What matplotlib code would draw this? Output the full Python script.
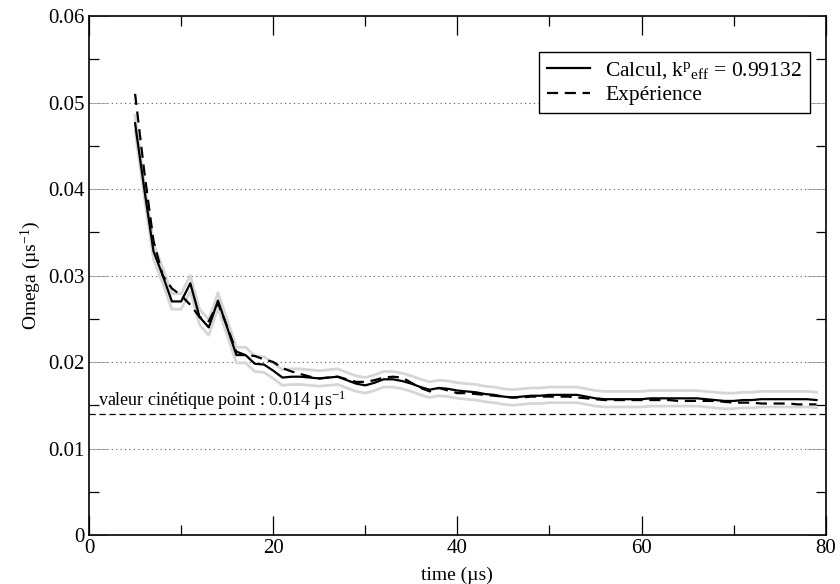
import matplotlib
matplotlib.use("Agg")
import matplotlib.pyplot as plt
import numpy as np

plt.rcParams['font.family'] = ['Liberation Serif', 'DejaVu Serif']
plt.rcParams['mathtext.fontset'] = 'custom'
plt.rcParams['mathtext.rm'] = 'Liberation Serif'
plt.rcParams['mathtext.it'] = 'Liberation Serif:italic'

# time (µs)
time = list(range(5, 80))

calcul = [0.0476, 0.0400, 0.0328, 0.0300, 0.0270, 0.0270, 0.0291, 0.0252, 0.0240, 0.0271,
          0.0240, 0.0208, 0.0208, 0.0198, 0.0197, 0.0190, 0.0182, 0.0183, 0.0183, 0.0182,
          0.0181, 0.0182, 0.0183, 0.0179, 0.0175, 0.0173, 0.0176, 0.0180, 0.0180, 0.0178,
          0.0175, 0.0171, 0.0168, 0.0170, 0.0169, 0.0167, 0.0166, 0.0165, 0.0163, 0.0162,
          0.0160, 0.0159, 0.0160, 0.0161, 0.0161, 0.0162, 0.0162, 0.0162, 0.0162, 0.0160,
          0.0158, 0.0157, 0.0157, 0.0157, 0.0157, 0.0157, 0.0158, 0.0158, 0.0158, 0.0158,
          0.0158, 0.0158, 0.0157, 0.0156, 0.0155, 0.0155, 0.0156, 0.0156, 0.0157, 0.0157,
          0.0157, 0.0157, 0.0157, 0.0157, 0.0156]

experience = [0.0510, 0.0420, 0.0340, 0.0300, 0.0285, 0.0277, 0.0266, 0.0252, 0.0247, 0.0268,
              0.0241, 0.0212, 0.0208, 0.0207, 0.0203, 0.0200, 0.0193, 0.0189, 0.0186, 0.0183,
              0.0181, 0.0182, 0.0183, 0.0180, 0.0177, 0.0177, 0.0179, 0.0182, 0.0183, 0.0182,
              0.0176, 0.0170, 0.0166, 0.0170, 0.0167, 0.0164, 0.0164, 0.0163, 0.0162, 0.0161,
              0.0160, 0.0159, 0.0159, 0.0160, 0.0160, 0.0160, 0.0160, 0.0160, 0.0159, 0.0158,
              0.0157, 0.0156, 0.0156, 0.0156, 0.0156, 0.0156, 0.0156, 0.0156, 0.0156, 0.0155,
              0.0155, 0.0155, 0.0155, 0.0155, 0.0154, 0.0153, 0.0153, 0.0153, 0.0152, 0.0152,
              0.0152, 0.0152, 0.0151, 0.0151, 0.0151]

calc_err = 0.0009          # half-width of the grey band around the calculation
point_kinetic = 0.014      # point-kinetics reference value

x_ticks = [0, 20, 40, 60, 80]
y_ticks = [0, 0.01, 0.02, 0.03, 0.04, 0.05, 0.06]
y_tick_labels = ["0", "0.01", "0.02", "0.03", "0.04", "0.05", "0.06"]

fig = plt.figure(figsize=(8.4, 5.84), dpi=100)
ax = fig.add_axes([0.106, 0.0839, 0.877, 0.8887])

t = np.array(time)
c = np.array(calcul)
ax.plot(t, c + calc_err, color='#d6d6d6', lw=2.0, zorder=2)
ax.plot(t, c - calc_err, color='#d6d6d6', lw=2.0, zorder=2)
ax.plot(t, c, color='black', lw=1.6, zorder=4,
        label=r"Calcul, k$^{\mathrm{p}}$$_{\mathrm{eff}}$ = 0.99132")
ax.plot(t, experience, color='black', lw=1.6, ls=(0, (5, 3)), zorder=3,
        label="Expérience")

ax.axhline(point_kinetic, color='black', lw=0.9, ls=(0, (5, 3)), zorder=3)
ax.text(1.0, point_kinetic + 0.00025, r"valeur cinétique point : 0.014 µs$^{-1}$",
        fontsize=13, ha='left', va='bottom')

for yv in y_ticks[1:-1]:
    ax.axhline(yv, color='0.35', lw=0.8, ls=(0, (1, 3)), zorder=1)

ax.set_xlim(0, 80)
ax.set_ylim(0, 0.06)
ax.set_xticks(x_ticks)
ax.set_xticks([10, 30, 50, 70], minor=True)
ax.set_yticks(y_ticks)
ax.set_yticklabels(y_tick_labels)
ax.set_yticks([0.005, 0.015, 0.025, 0.035, 0.045, 0.055], minor=True)

ax.tick_params(axis='both', which='both', direction='in', top=True, right=True,
               labelsize=15, width=0.9)
ax.tick_params(axis='x', which='major', length=14, pad=3)
ax.tick_params(axis='y', which='major', length=14, color='0.6', width=0.6, pad=3)
ax.tick_params(axis='both', which='minor', length=7)
for s in ax.spines.values():
    s.set_linewidth(1.2)

ax.set_xlabel("time (µs)", fontsize=14)
ax.xaxis.set_label_coords(0.5, -0.062)
ax.set_ylabel(r"Omega (µs$^{-1}$)", fontsize=14, labelpad=4)

leg = ax.legend(loc='upper right', bbox_to_anchor=(0.978, 0.93), fontsize=15.5,
                frameon=True, fancybox=False, framealpha=1, edgecolor='black',
                borderaxespad=0, handlelength=2.0, handletextpad=0.7,
                borderpad=0.35, labelspacing=0.2)
leg.get_frame().set_linewidth(1.0)

fig.savefig("out.png", dpi=100)
